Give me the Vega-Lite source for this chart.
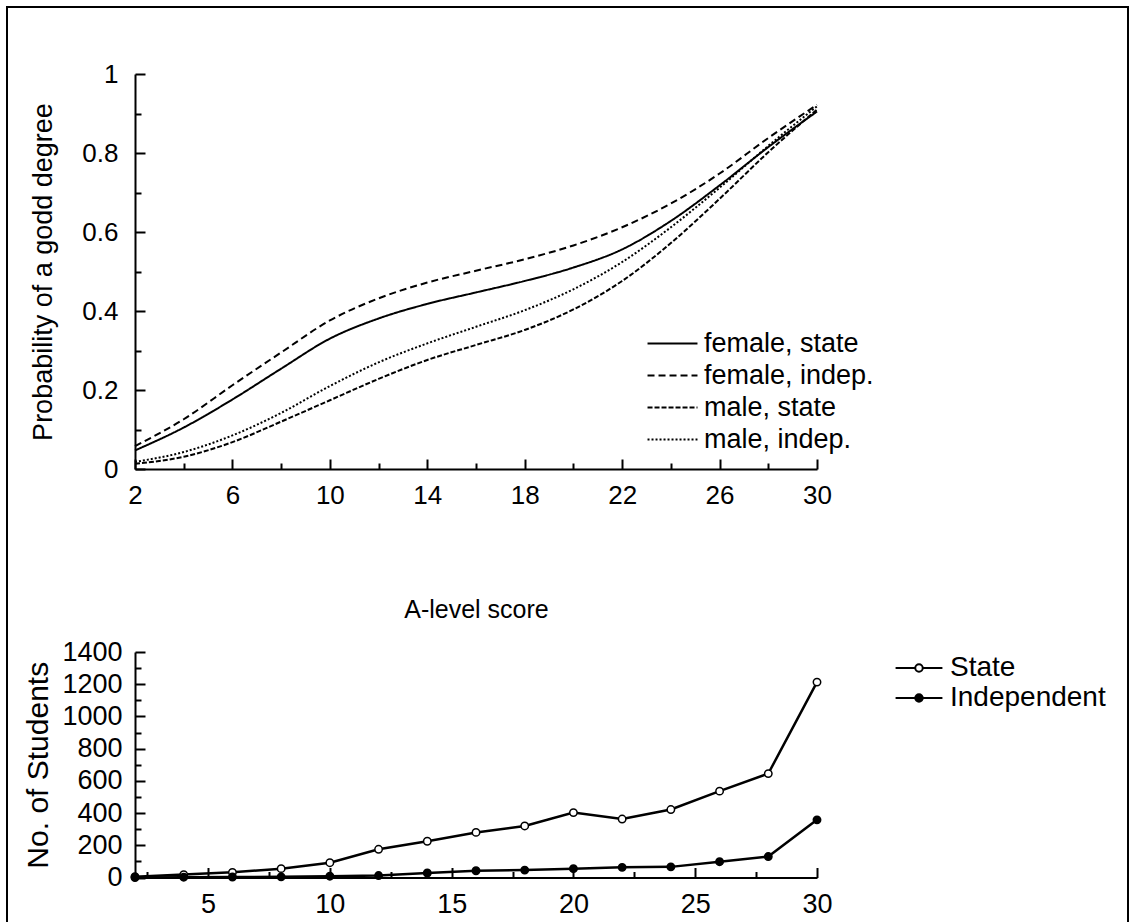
{
  "$schema": "https://vega.github.io/schema/vega-lite/v6.json",
  "width": 1121,
  "height": 930,
  "autosize": {"type": "none"},
  "padding": {"left": 7, "top": 7, "right": 7, "bottom": 0},
  "background": "white",
  "config": {
    "view": {"stroke": "black", "strokeWidth": 2},
    "font": "Liberation Sans",
    "axis": {
      "grid": false,
      "domainColor": "black",
      "domainWidth": 2,
      "tickColor": "black",
      "tickWidth": 2,
      "labelColor": "black",
      "titleColor": "black",
      "labelFontWeight": "normal",
      "titleFontWeight": "normal",
      "labelFont": "Liberation Sans",
      "titleFont": "Liberation Sans"
    },
    "legend": {
      "labelFont": "Liberation Sans",
      "labelColor": "black",
      "labelLimit": 400,
      "padding": 0
    }
  },
  "datasets": {
    "curves": [
      {"score": 2, "p": 0.047, "group": "female, state"},
      {"score": 4, "p": 0.105, "group": "female, state"},
      {"score": 6, "p": 0.176, "group": "female, state"},
      {"score": 8, "p": 0.254, "group": "female, state"},
      {"score": 10, "p": 0.33, "group": "female, state"},
      {"score": 12, "p": 0.381, "group": "female, state"},
      {"score": 14, "p": 0.418, "group": "female, state"},
      {"score": 16, "p": 0.447, "group": "female, state"},
      {"score": 18, "p": 0.476, "group": "female, state"},
      {"score": 20, "p": 0.51, "group": "female, state"},
      {"score": 22, "p": 0.556, "group": "female, state"},
      {"score": 24, "p": 0.628, "group": "female, state"},
      {"score": 26, "p": 0.718, "group": "female, state"},
      {"score": 28, "p": 0.815, "group": "female, state"},
      {"score": 30, "p": 0.905, "group": "female, state"},
      {"score": 2, "p": 0.058, "group": "female, indep."},
      {"score": 4, "p": 0.126, "group": "female, indep."},
      {"score": 6, "p": 0.212, "group": "female, indep."},
      {"score": 8, "p": 0.295, "group": "female, indep."},
      {"score": 10, "p": 0.376, "group": "female, indep."},
      {"score": 12, "p": 0.432, "group": "female, indep."},
      {"score": 14, "p": 0.472, "group": "female, indep."},
      {"score": 16, "p": 0.502, "group": "female, indep."},
      {"score": 18, "p": 0.531, "group": "female, indep."},
      {"score": 20, "p": 0.566, "group": "female, indep."},
      {"score": 22, "p": 0.612, "group": "female, indep."},
      {"score": 24, "p": 0.672, "group": "female, indep."},
      {"score": 26, "p": 0.748, "group": "female, indep."},
      {"score": 28, "p": 0.838, "group": "female, indep."},
      {"score": 30, "p": 0.922, "group": "female, indep."},
      {"score": 2, "p": 0.013, "group": "male, state"},
      {"score": 4, "p": 0.031, "group": "male, state"},
      {"score": 6, "p": 0.068, "group": "male, state"},
      {"score": 8, "p": 0.12, "group": "male, state"},
      {"score": 10, "p": 0.174, "group": "male, state"},
      {"score": 12, "p": 0.228, "group": "male, state"},
      {"score": 14, "p": 0.276, "group": "male, state"},
      {"score": 16, "p": 0.314, "group": "male, state"},
      {"score": 18, "p": 0.352, "group": "male, state"},
      {"score": 20, "p": 0.404, "group": "male, state"},
      {"score": 22, "p": 0.476, "group": "male, state"},
      {"score": 24, "p": 0.572, "group": "male, state"},
      {"score": 26, "p": 0.684, "group": "male, state"},
      {"score": 28, "p": 0.802, "group": "male, state"},
      {"score": 30, "p": 0.91, "group": "male, state"},
      {"score": 2, "p": 0.018, "group": "male, indep."},
      {"score": 4, "p": 0.043, "group": "male, indep."},
      {"score": 6, "p": 0.085, "group": "male, indep."},
      {"score": 8, "p": 0.142, "group": "male, indep."},
      {"score": 10, "p": 0.21, "group": "male, indep."},
      {"score": 12, "p": 0.27, "group": "male, indep."},
      {"score": 14, "p": 0.318, "group": "male, indep."},
      {"score": 16, "p": 0.36, "group": "male, indep."},
      {"score": 18, "p": 0.402, "group": "male, indep."},
      {"score": 20, "p": 0.455, "group": "male, indep."},
      {"score": 22, "p": 0.524, "group": "male, indep."},
      {"score": 24, "p": 0.612, "group": "male, indep."},
      {"score": 26, "p": 0.712, "group": "male, indep."},
      {"score": 28, "p": 0.818, "group": "male, indep."},
      {"score": 30, "p": 0.918, "group": "male, indep."}
    ],
    "counts": [
      {"score": 2, "n": 5, "school": "State"},
      {"score": 4, "n": 18, "school": "State"},
      {"score": 6, "n": 32, "school": "State"},
      {"score": 8, "n": 55, "school": "State"},
      {"score": 10, "n": 92, "school": "State"},
      {"score": 12, "n": 175, "school": "State"},
      {"score": 14, "n": 225, "school": "State"},
      {"score": 16, "n": 280, "school": "State"},
      {"score": 18, "n": 320, "school": "State"},
      {"score": 20, "n": 403, "school": "State"},
      {"score": 22, "n": 363, "school": "State"},
      {"score": 24, "n": 422, "school": "State"},
      {"score": 26, "n": 536, "school": "State"},
      {"score": 28, "n": 645, "school": "State"},
      {"score": 30, "n": 1213, "school": "State"},
      {"score": 2, "n": 0, "school": "Independent"},
      {"score": 4, "n": 2, "school": "Independent"},
      {"score": 6, "n": 3, "school": "Independent"},
      {"score": 8, "n": 4, "school": "Independent"},
      {"score": 10, "n": 8, "school": "Independent"},
      {"score": 12, "n": 12, "school": "Independent"},
      {"score": 14, "n": 28, "school": "Independent"},
      {"score": 16, "n": 42, "school": "Independent"},
      {"score": 18, "n": 46, "school": "Independent"},
      {"score": 20, "n": 55, "school": "Independent"},
      {"score": 22, "n": 63, "school": "Independent"},
      {"score": 24, "n": 66, "school": "Independent"},
      {"score": 26, "n": 98, "school": "Independent"},
      {"score": 28, "n": 130, "school": "Independent"},
      {"score": 30, "n": 358, "school": "Independent"}
    ]
  },
  "layer": [
    {
      "data": {"name": "curves"},
      "mark": {"type": "line", "interpolate": "monotone", "color": "black", "strokeWidth": 2},
      "encoding": {
        "x": {
          "field": "score", "type": "quantitative",
          "scale": {"domain": [2, 30], "range": [128, 810], "nice": false, "zero": false},
          "axis": {
            "orient": "bottom", "offset": -468,
            "values": [2, 4, 6, 8, 10, 12, 14, 16, 18, 20, 22, 24, 26, 28, 30],
            "format": "~g",
            "labelExpr": "(datum.value - 2) % 4 == 0 ? datum.label : ''",
            "tickSize": {"condition": {"test": "(datum.value - 2) % 4 == 0", "value": -10}, "value": -6},
            "labelPadding": 23,
            "labelFontSize": 26,
            "labelFlush": false,
            "title": "A-level score",
            "titleFontSize": 25,
            "titlePadding": 89
          }
        },
        "y": {
          "field": "p", "type": "quantitative",
          "scale": {"domain": [0, 1], "range": [462, 67], "nice": false},
          "axis": {
            "orient": "left", "offset": -128,
            "values": [0, 0.1, 0.2, 0.3, 0.4, 0.5, 0.6, 0.7, 0.8, 0.9, 1],
            "format": "~g",
            "labelExpr": "round(datum.value * 10) % 2 == 0 ? datum.label : ''",
            "tickSize": {"condition": {"test": "round(datum.value * 10) % 2 == 0", "value": -10}, "value": -6},
            "labelPadding": 27,
            "labelFontSize": 26,
            "labelFlush": false,
            "title": "Probability of a godd degree",
            "titleFontSize": 27,
            "titlePadding": 24
          }
        },
        "strokeDash": {
          "field": "group", "type": "nominal",
          "scale": {
            "domain": ["female, state", "female, indep.", "male, state", "male, indep."],
            "range": [[1, 0], [7, 4], [5, 2], [2, 2]]
          },
          "legend": {
            "orient": "none",
            "legendX": 652,
            "legendY": 323,
            "title": null,
            "symbolType": "M-4,0H4",
            "symbolSize": 156,
            "symbolStrokeWidth": 2,
            "symbolStrokeColor": "black",
            "symbolFillColor": "transparent",
            "labelFontSize": 27,
            "labelOffset": 18,
            "rowPadding": 4
          }
        }
      }
    },
    {
      "data": {"name": "counts"},
      "encoding": {
        "x": {
          "field": "score", "type": "quantitative",
          "scale": {"domain": [2, 30], "range": [128, 810], "nice": false, "zero": false},
          "axis": {
            "orient": "bottom", "offset": -59.5,
            "values": [2.5, 5, 7.5, 10, 12.5, 15, 17.5, 20, 22.5, 25, 27.5, 30],
            "format": "~g",
            "labelExpr": "datum.value % 5 == 0 ? datum.label : ''",
            "tickSize": {"condition": {"test": "datum.value % 5 == 0", "value": -10}, "value": -6},
            "labelPadding": 24,
            "labelFontSize": 27,
            "labelFlush": false,
            "title": null
          }
        },
        "y": {
          "field": "n", "type": "quantitative",
          "scale": {"domain": [0, 1400], "range": [870.5, 645], "nice": false},
          "axis": {
            "orient": "left", "offset": -128,
            "values": [0, 100, 200, 300, 400, 500, 600, 700, 800, 900, 1000, 1100, 1200, 1300, 1400],
            "format": "d",
            "labelExpr": "datum.value % 200 == 0 ? datum.label : ''",
            "tickSize": {"condition": {"test": "datum.value % 200 == 0", "value": -10}, "value": -6},
            "labelPadding": 23,
            "labelFontSize": 27,
            "labelFlush": false,
            "title": "No. of Students",
            "titleFontSize": 30,
            "titlePadding": 8
          }
        }
      },
      "layer": [
        {
          "mark": {"type": "line", "color": "black", "strokeWidth": 2.5},
          "encoding": {"detail": {"field": "school", "type": "nominal"}}
        },
        {
          "mark": {"type": "point", "shape": "circle", "size": 55, "stroke": "black", "strokeWidth": 1.5, "opacity": 1, "filled": false},
          "encoding": {
            "fill": {
              "field": "school", "type": "nominal",
              "scale": {"domain": ["State", "Independent"], "range": ["white", "black"]},
              "legend": {
                "orient": "none",
                "legendX": 898,
                "legendY": 647,
                "title": null,
                "symbolType": "M-3.75,0H-0.6M0.6,0H3.75M0.6,0A0.6,0.6 0 1,1 -0.6,0A0.6,0.6 0 1,1 0.6,0Z",
                "symbolSize": 156,
                "symbolStrokeWidth": 2,
                "symbolStrokeColor": "black",
                "labelFontSize": 28,
                "labelOffset": 17,
                "rowPadding": 2
              }
            }
          }
        }
      ]
    }
  ],
  "resolve": {"scale": {"x": "independent", "y": "independent"}}
}
